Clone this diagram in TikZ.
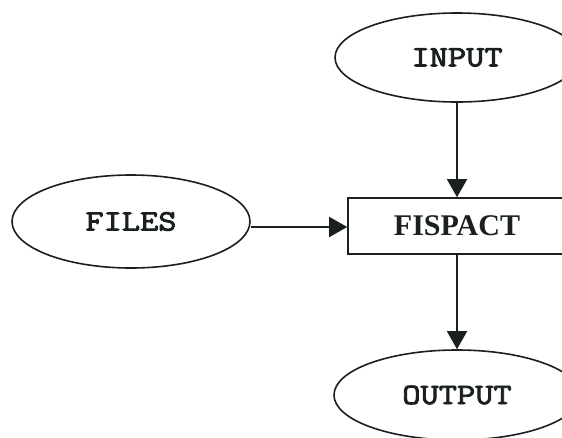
\documentclass[tikz,border=0pt]{standalone}
\usepackage{fontspec}
\setmainfont{Liberation Serif}
\newfontfamily\courfont[FakeBold=3,FakeStretch=1.2]{Latin Modern Mono}
\usetikzlibrary{shapes.geometric,arrows.meta}
\definecolor{ink}{HTML}{1A1F1F}
\tikzset{
  oval/.style={draw=ink, line width=1.6pt, ellipse, inner sep=0pt,
    font=\courfont\fontsize{29.5}{31}\selectfont, text=ink},
  procbox/.style={draw=ink, line width=1.6pt, rectangle, inner sep=0pt,
    font=\bfseries\fontsize{30}{32}\selectfont, text=ink},
  flow/.style={draw=ink, line width=1.6pt, -{Triangle[length=18pt,width=20pt]}, shorten >=0pt}
}
\begin{document}
\begin{tikzpicture}[x=1pt,y=-1pt]
\useasboundingbox (0,0) rectangle (562,437);
\fill[white] (0,0) rectangle (562,437);
\begin{scope}
\clip (0,0) rectangle (562,437);
\node[oval, minimum width=244pt, minimum height=89pt] (input) at (457,57.5) {INPUT};
\node[procbox, minimum width=218pt, minimum height=56pt] (fispact) at (457,226) {FISPACT};
\node[oval, minimum width=238pt, minimum height=93pt] (files) at (131,221.5) {FILES};
\node[oval, minimum width=246pt, minimum height=90pt] (output) at (457,395) {OUTPUT};
\coordinate (fin) at (fispact.west |- 0,227);
\draw[flow] (input.south) -- (fispact.north);
\draw[flow] (fispact.south) -- (output.north);
\draw[flow] (files.east |- 0,227) -- (fin);
\end{scope}
\end{tikzpicture}
\end{document}
